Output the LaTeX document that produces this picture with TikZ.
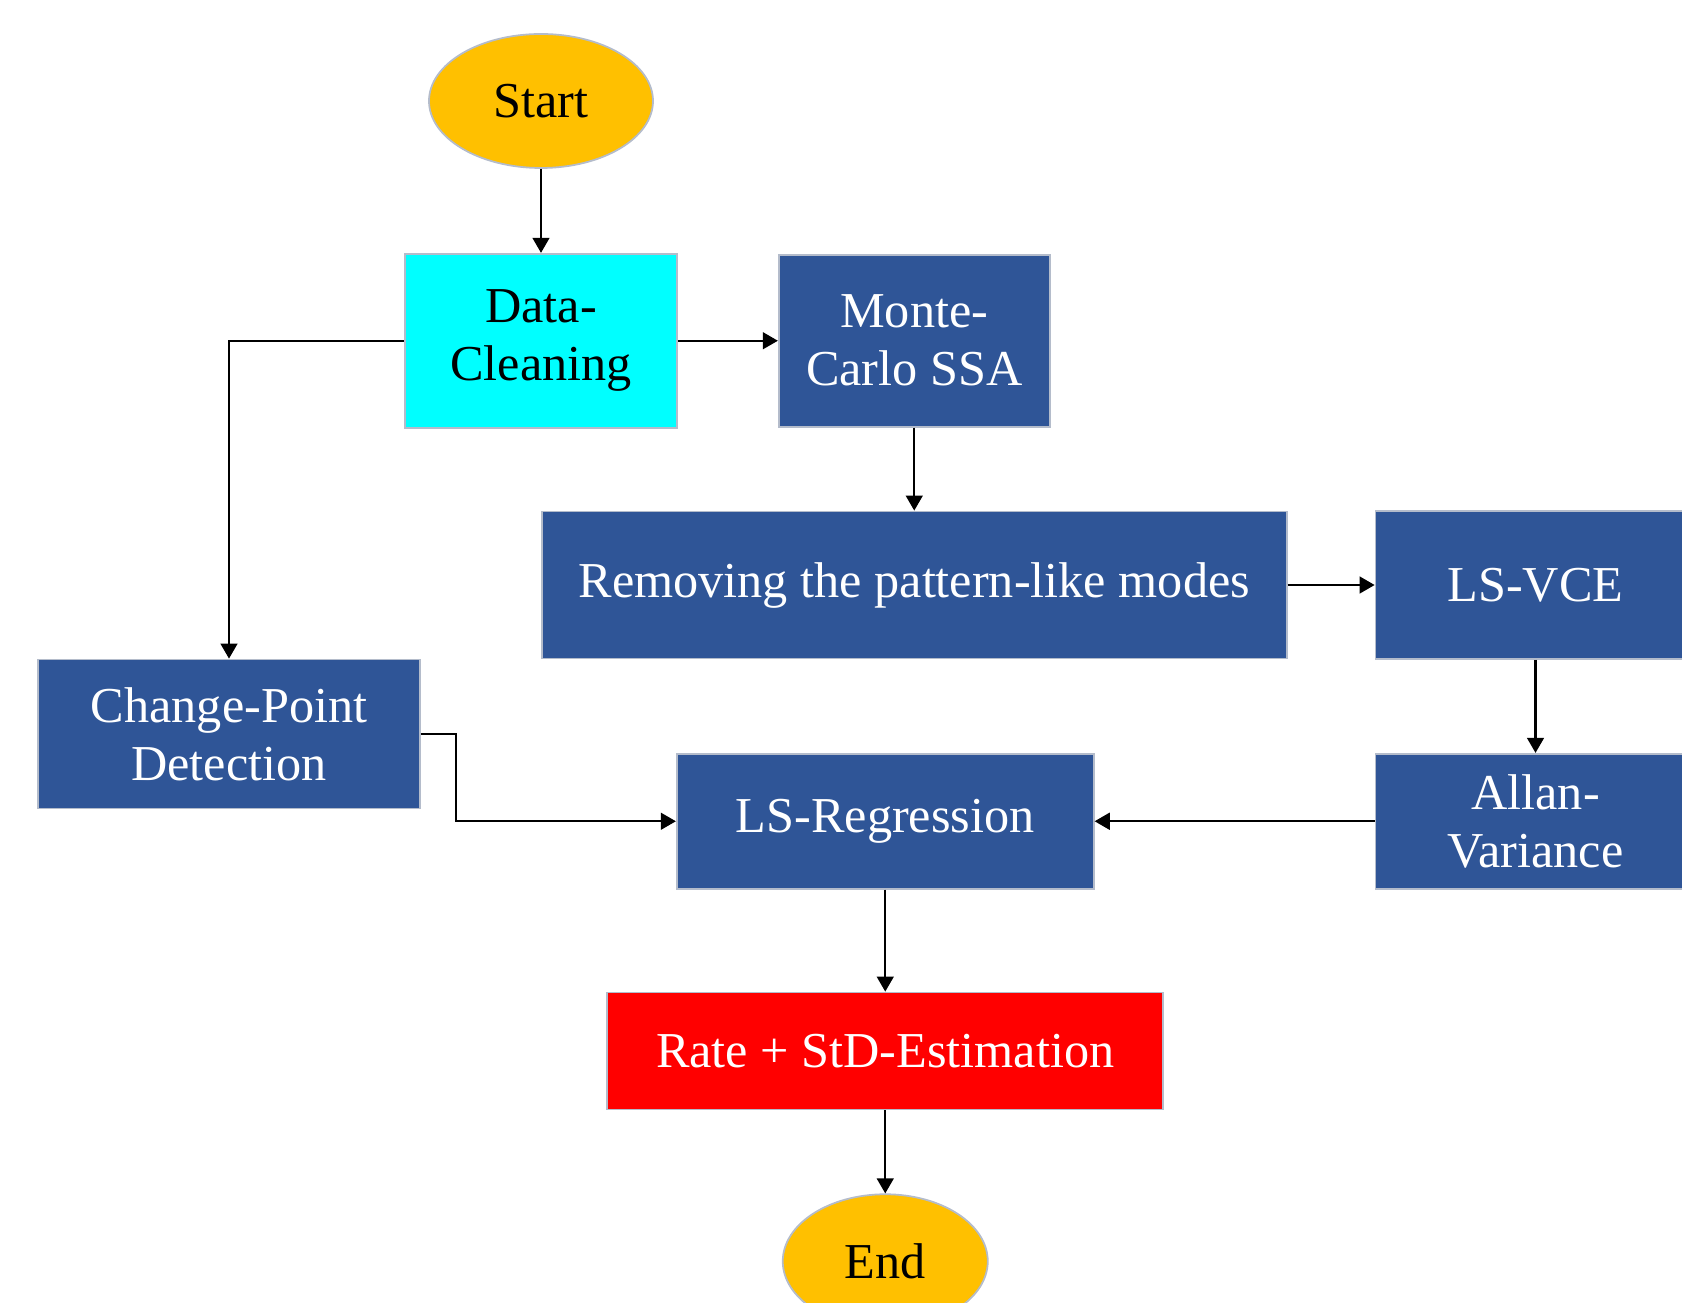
\documentclass[tikz,border=0pt]{standalone}
\usepackage{fontspec}
\setmainfont{Liberation Serif}
\usetikzlibrary{arrows.meta, positioning, shapes.geometric}
\definecolor{navy}{HTML}{2F5597}
\definecolor{aqua}{HTML}{00FFFF}
\definecolor{amber}{HTML}{FFC000}
\definecolor{alert}{HTML}{FF0000}
\definecolor{edge}{HTML}{B4BCCB}
\tikzset{
  term/.style={ellipse, draw=edge, fill=amber, line width=0.5pt, inner sep=0pt,
               minimum width=2.24cm, minimum height=1.34cm, font=\flfont, text=black},
  bbox/.style={rectangle, draw=edge, fill=navy, line width=0.5pt, align=center,
               inner sep=0pt, font=\flfont, text=white},
  cbox/.style={rectangle, draw=edge, fill=aqua, line width=0.5pt, align=center,
               inner sep=0pt, font=\flfont, text=black},
  rbox/.style={rectangle, draw=edge, fill=alert, line width=0.5pt, align=center,
               inner sep=0pt, font=\flfont, text=white},
  fl/.style={-{Triangle[length=4.3pt, width=4.8pt]}, line width=0.6pt, draw=black},
}
\newcommand{\flfont}{\fontsize{14.3pt}{16.5pt}\selectfont}

\begin{document}
\begin{tikzpicture}
  \useasboundingbox (0,0) rectangle (16.82,-13.03);
  \clip (0,0) rectangle (16.82,-13.03);
  \node[term] (start) at (5.41,-1.01) {Start};
  \node[cbox, minimum width=2.72cm, minimum height=1.74cm, below=0.84cm of start] (dc) {Data-\\Cleaning};
  \node[bbox, minimum width=2.71cm, minimum height=1.72cm, right=1.0cm of dc] (mc) {Monte-\\Carlo SSA};
  \node[bbox, minimum width=7.45cm, minimum height=1.47cm, below=0.83cm of mc] (rem) {Removing the pattern-like modes};
  \node[bbox, minimum width=3.2cm, minimum height=1.48cm, right=0.87cm of rem] (vce) {LS-VCE};
  \node[bbox, minimum width=3.2cm, minimum height=1.35cm, below=0.93cm of vce] (allan) {Allan-\\Variance};
  \node[bbox, minimum width=4.17cm, minimum height=1.35cm, left=2.8cm of allan] (lsreg) {LS-Regression};
  \node[bbox, minimum width=3.82cm, minimum height=1.49cm, below=2.3cm of dc, xshift=-3.12cm] (cp) {Change-Point\\Detection};
  \node[rbox, minimum width=5.56cm, minimum height=1.17cm, below=1.02cm of lsreg] (rate) {Rate + StD-Estimation};
  \node[term, minimum width=2.05cm, below=0.83cm of rate] (stop) {End};
  \draw[fl] (start)--(dc); \draw[fl] (dc)--(mc); \draw[fl] (dc.west) -| (cp.north);
  \draw[fl] (mc)--(rem); \draw[fl] (rem)--(vce); \draw[fl] (vce)--(allan);
  \draw[fl] (allan)--(lsreg); \draw[fl] (cp.east) -- ++(0.35,0) |- (lsreg.west);
  \draw[fl] (lsreg)--(rate); \draw[fl] (rate)--(stop);
\end{tikzpicture}
\end{document}
